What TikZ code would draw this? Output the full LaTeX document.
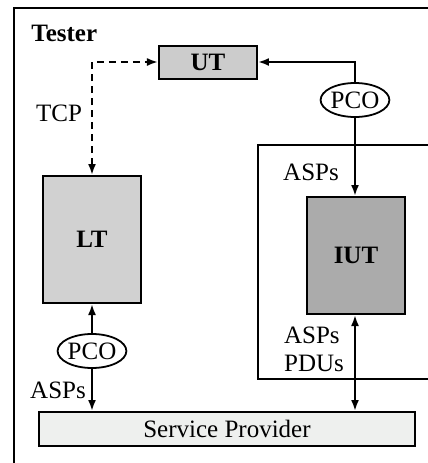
\documentclass[tikz,border=0pt]{standalone}
\usepackage{fontspec}
\setmainfont{Liberation Serif}
\usetikzlibrary{arrows.meta,shapes.geometric}

\definecolor{utfill}{gray}{0.80}
\definecolor{ltfill}{gray}{0.82}
\definecolor{iutfill}{gray}{0.67}
\definecolor{spfill}{RGB}{238,240,238}

\newcommand{\diagfont}{\fontsize{12.5}{14}\selectfont}

\tikzset{
  frame/.style={draw, line width=1pt},
  unit/.style={draw, line width=1pt, inner sep=0pt, font=\diagfont\bfseries},
  pco/.style={draw, ellipse, line width=0.9pt, minimum width=33pt, minimum height=17pt, inner sep=0pt},
  lbl/.style={inner sep=0pt},
  link/.style={line width=1pt},
  tip/.style={-{Latex[length=5.5pt,width=4pt]}},
  tips/.style={{Latex[length=5.5pt,width=4pt]}-{Latex[length=5.5pt,width=4pt]}},
  dash line/.style={line width=1pt, dash pattern=on 3.5pt off 2.5pt}
}

\begin{document}
\begin{tikzpicture}[x=0.5pt,y=-0.5pt,font=\diagfont]
\useasboundingbox (0,0) rectangle (428,463);
\clip (0,0) rectangle (428,463);

% outer tester frame and IUT environment
\draw[frame] (14,8) rectangle (450,490);
\draw[frame] (258,145) rectangle (450,379);
\node[lbl, anchor=base west, font=\diagfont\bfseries] (tester) at (31,41) {Tester};

% units
\node[unit, fill=utfill, minimum width=49pt, minimum height=16.5pt] (UT) at (208,62) {UT};
\node[unit, fill=ltfill, minimum width=49pt, minimum height=63.5pt] (LT) at (92,239.5) {LT};
\node[unit, fill=iutfill, minimum width=49pt, minimum height=58.5pt] (IUT) at (356,255.5) {IUT};
\node[draw, line width=1pt, fill=spfill, inner sep=0pt, minimum width=188pt, minimum height=17pt] (SP) at (227,429) {Service Provider};

% points of control and observation
\node[pco] (PCO1) at (355,100) {PCO};
\node[pco] (PCO2) at (92,351) {PCO};

% corner points of the connectors
\coordinate (tcpc) at (92,62);
\coordinate (utc) at (355,62);

% TCP link between LT and UT
\draw[dash line, tips] (LT.north) -- (tcpc) -- (UT.west);
\node[lbl] (tcp) at (59,113) {TCP};

% UT to IUT through PCO
\draw[link, tip] (PCO1.north) -- (utc) -- (UT.east);
\draw[link, tip] (PCO1.south) -- (PCO1.south |- IUT.north);
\node[lbl] (asp1) at (311,172) {ASPs};

% LT to service provider through PCO
\draw[link, tip] (PCO2.north) -- (PCO2.north |- LT.south);
\draw[link, tip] (PCO2.south) -- (PCO2.south |- SP.north);
\node[lbl] (asp2) at (58,390) {ASPs};

% IUT to service provider
\draw[link, tips] (IUT.south -| PCO1.south) -- (PCO1.south |- SP.north);
\node[lbl, align=left] (asp3) at (314,349) {ASPs\\PDUs};
\end{tikzpicture}
\end{document}
